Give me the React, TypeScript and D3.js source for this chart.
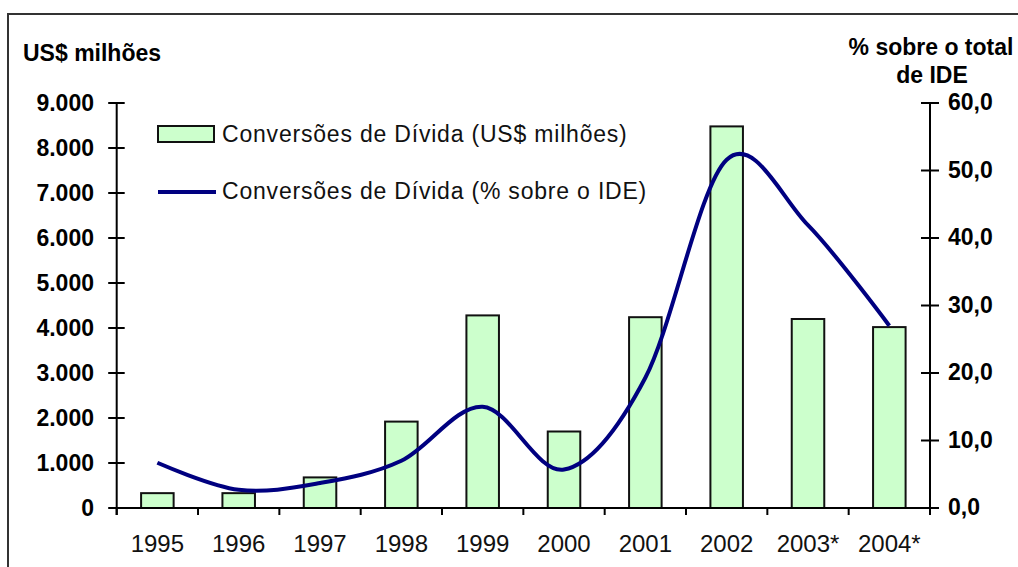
import React from "react";
import * as d3 from "d3";

const categories = ["1995", "1996", "1997", "1998", "1999", "2000", "2001", "2002", "2003*", "2004*"];
const debtConversionsUSD = [330, 330, 680, 1920, 4280, 1700, 4240, 8480, 4200, 4020];
const debtConversionsPct = [6.7, 2.7, 3.7, 7.0, 15.0, 5.7, 19.3, 51.6, 41.9, 27.0];
const leftTicks = [0, 1000, 2000, 3000, 4000, 5000, 6000, 7000, 8000, 9000];
const rightTicks = [0, 10, 20, 30, 40, 50, 60];
const legendLabels = ["Conversões de Dívida (US$ milhões)", "Conversões de Dívida (% sobre o IDE)"];

const W = 1018;
const H = 567;
const xLeft = 116.7;
const xRight = 930;
const yBottom = 508;
const yTop = 103;
const FONT = "'Liberation Sans', Arial, sans-serif";

const fmtLeft = (v: number) => d3.format(",")(v).replace(/,/g, ".");
const fmtRight = (v: number) => v.toFixed(1).replace(".", ",");

export default function App() {
  const x = d3.scaleBand<string>().domain(categories).range([xLeft, xRight]).paddingInner(0).paddingOuter(0);
  const yL = d3.scaleLinear().domain([0, 9000]).range([yBottom, yTop]);
  const yR = d3.scaleLinear().domain([0, 60]).range([yBottom, yTop]);
  const bw = x.bandwidth();
  const barW = bw / 2.5;

  const line = d3
    .line<number>()
    .x((_, i) => (x(categories[i]) as number) + bw / 2)
    .y((d) => yR(d))
    .curve(d3.curveCardinal.tension(0));

  const boundaries = d3.range(categories.length + 1).map((i) => xLeft + i * bw);

  return (
    <svg
      width={W}
      height={H}
      style={{ position: "absolute", left: 0, top: 0, display: "block", background: "#fff" }}
      fontFamily={FONT}
    >
      <rect x={8} y={14} width={1100} height={700} fill="#fff" stroke="#333" strokeWidth={2} />

      {/* titles */}
      <text x={23} y={61} fontSize={23} fontWeight="bold" fill="#000">US$ milhões</text>
      <text x={xRight + 1} y={55} fontSize={23} fontWeight="bold" fill="#000" textAnchor="middle">% sobre o total</text>
      <text x={xRight + 2} y={83} fontSize={23} fontWeight="bold" fill="#000" textAnchor="middle">de IDE</text>

      {/* bars */}
      {categories.map((c, i) => {
        const cx = (x(c) as number) + bw / 2;
        return (
          <rect
            key={c}
            x={cx - barW / 2}
            y={yL(debtConversionsUSD[i])}
            width={barW}
            height={yBottom - yL(debtConversionsUSD[i])}
            fill="#CCFFCC"
            stroke="#111"
            strokeWidth={2}
          />
        );
      })}

      {/* axes */}
      <line x1={xLeft} x2={xLeft} y1={yTop} y2={yBottom + 7} stroke="#000" strokeWidth={2} />
      <line x1={xRight} x2={xRight} y1={yTop} y2={yBottom + 7} stroke="#000" strokeWidth={2} />
      <line x1={xLeft} x2={xRight} y1={yBottom} y2={yBottom} stroke="#000" strokeWidth={2} />

      {leftTicks.map((t) => (
        <g key={"l" + t}>
          <line x1={xLeft - 8.5} x2={xLeft + 8} y1={yL(t)} y2={yL(t)} stroke="#000" strokeWidth={2} />
          <text x={94} y={yL(t) + 7.5} textAnchor="end" fontSize={23} fontWeight="bold" fill="#000">
            {fmtLeft(t)}
          </text>
        </g>
      ))}

      {rightTicks.map((t) => (
        <g key={"r" + t}>
          <line x1={xRight - 9} x2={xRight + 9} y1={yR(t)} y2={yR(t)} stroke="#000" strokeWidth={2} />
          <text x={948} y={yR(t) + 7} textAnchor="start" fontSize={23} fontWeight="bold" fill="#000">
            {fmtRight(t)}
          </text>
        </g>
      ))}

      {boundaries.map((bx, i) => (
        <line key={"xt" + i} x1={bx} x2={bx} y1={yBottom} y2={yBottom + 7} stroke="#000" strokeWidth={2} />
      ))}

      {categories.map((c) => (
        <text
          key={"xl" + c}
          x={(x(c) as number) + bw / 2}
          y={552}
          textAnchor="middle"
          fontSize={24}
          fill="#111"
        >
          {c}
        </text>
      ))}

      {/* line */}
      <path d={line(debtConversionsPct) || ""} fill="none" stroke="#000080" strokeWidth={4} strokeLinejoin="round" />

      {/* legend */}
      <rect x={158} y={126} width={56} height={16} fill="#CCFFCC" stroke="#111" strokeWidth={2} />
      <text x={222} y={141.5} fontSize={23} letterSpacing={0.8} fill="#111">{legendLabels[0]}</text>
      <line x1={158} x2={216} y1={192} y2={192} stroke="#000080" strokeWidth={4} />
      <text x={222} y={199} fontSize={23} letterSpacing={0.8} fill="#111">{legendLabels[1]}</text>
    </svg>
  );
}
